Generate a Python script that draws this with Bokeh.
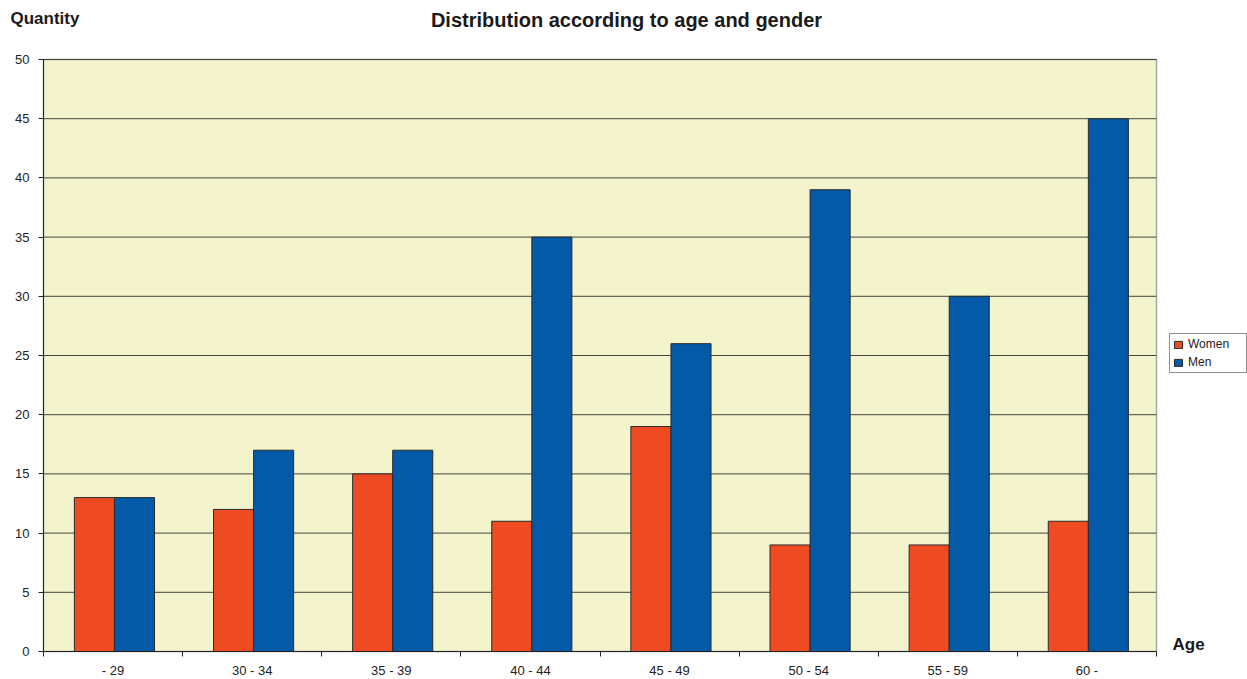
from bokeh.plotting import figure
from bokeh.models import (Range1d, FixedTicker, Legend, LegendItem, ColumnDataSource, Label)
from bokeh.embed import file_html
from bokeh.resources import INLINE

categories = ["- 29", "30 - 34", "35 - 39", "40 - 44", "45 - 49", "50 - 54", "55 - 59", "60 -"]
women = [13, 12, 15, 11, 19, 9, 9, 11]
men = [13, 17, 17, 35, 26, 39, 30, 45]
y_ticks = [0, 5, 10, 15, 20, 25, 30, 35, 40, 45, 50]
chart_title = "Distribution according to age and gender"
y_title = "Quantity"
x_title = "Age"

W, H = 1247, 679
n = len(categories)
y_max = 50
# plot-area placement on the canvas (pixels)
pa_left, pa_right, pa_top, pa_bottom = 43, 1156, 59, 651
sx = (pa_right - pa_left) / n
sy = (pa_bottom - pa_top) / y_max

centers = [i + 0.5 for i in range(n)]
bw = 0.288

src = ColumnDataSource(dict(
    xw=[c - bw / 2 + 0.01 for c in centers], xm=[c + bw / 2 + 0.01 for c in centers],
    women=women, men=men))

p = figure(width=W, height=H, output_backend="svg", toolbar_location=None,
           x_range=Range1d(-pa_left / sx, n + (W - pa_right) / sx),
           y_range=Range1d(-(H - pa_bottom) / sy, y_max + pa_top / sy),
           min_border=0, min_border_left=0, min_border_right=0,
           min_border_top=0, min_border_bottom=0)
p.title.visible = False
p.background_fill_color = "white"
p.border_fill_color = "white"
p.outline_line_color = None
p.xgrid.visible = False
p.ygrid.visible = False

f = "Liberation Sans"

# plot area
p.quad(left=[0], right=[n], bottom=[0], top=[y_max], fill_color="#F4F4CC",
       line_color="#a8a8a8", line_width=1.5)
# horizontal grid lines
p.segment(x0=[0] * len(y_ticks), x1=[n] * len(y_ticks), y0=y_ticks, y1=y_ticks,
          line_color="#444444", line_width=1)

rw = p.vbar(x="xw", top="women", width=bw, source=src, fill_color="#EF4B23",
            line_color="#2a2a2a", line_width=1)
rm = p.vbar(x="xm", top="men", width=bw, source=src, fill_color="#055AA8",
            line_color="#2a2a2a", line_width=1)

# y axis
yax = p.yaxis[0]
yax.fixed_location = 0
yax.bounds = (0, y_max)
yax.ticker = FixedTicker(ticks=y_ticks)
yax.axis_line_color = "#222222"
yax.major_tick_line_color = "#222222"
yax.major_tick_out = 5
yax.major_tick_in = 0
yax.minor_tick_line_color = None
yax.major_label_text_font = f
yax.major_label_text_font_size = "13px"
yax.major_label_text_color = "#222222"
yax.major_label_standoff = 9

# x axis
xax = p.xaxis[0]
xax.fixed_location = 0
xax.bounds = (0, n)
xax.ticker = FixedTicker(ticks=centers, minor_ticks=list(range(n + 1)))
xax.major_label_overrides = {c: lab for c, lab in zip(centers, categories)}
xax.axis_line_color = "#222222"
xax.major_tick_line_color = None
xax.major_tick_out = 0
xax.major_tick_in = 0
xax.minor_tick_line_color = "#222222"
xax.minor_tick_out = 5
xax.minor_tick_in = 0
xax.major_label_text_font = f
xax.major_label_text_font_size = "13px"
xax.major_label_text_color = "#222222"
xax.major_label_standoff = 6

# texts (screen units measured from the frame's bottom-left)
p.add_layout(Label(x=626, y=H - 19, x_units="screen", y_units="screen", text=chart_title,
                   text_font=f, text_font_style="bold", text_font_size="20px",
                   text_align="center", text_baseline="middle", text_color="#1a1a1a"))
p.add_layout(Label(x=10, y=H - 18, x_units="screen", y_units="screen", text=y_title,
                   text_font=f, text_font_style="bold", text_font_size="17px",
                   text_align="left", text_baseline="middle", text_color="#1a1a1a"))
p.add_layout(Label(x=1172, y=H - 644, x_units="screen", y_units="screen", text=x_title,
                   text_font=f, text_font_style="bold", text_font_size="17px",
                   text_align="left", text_baseline="middle", text_color="#1a1a1a"))

legend = Legend(items=[LegendItem(label="Women", renderers=[rw]),
                       LegendItem(label="Men", renderers=[rm])],
                location=(1169, H - 373), border_line_color="#222222", border_line_width=1,
                label_text_font=f, label_text_font_size="12px", label_text_color="#1a1a1a",
                glyph_width=10, glyph_height=9, label_standoff=5, spacing=4,
                padding=3, margin=0, label_height=14, label_width=55,
                background_fill_color="white")
p.add_layout(legend, "center")

open("out.html", "w").write(file_html(p, INLINE))
